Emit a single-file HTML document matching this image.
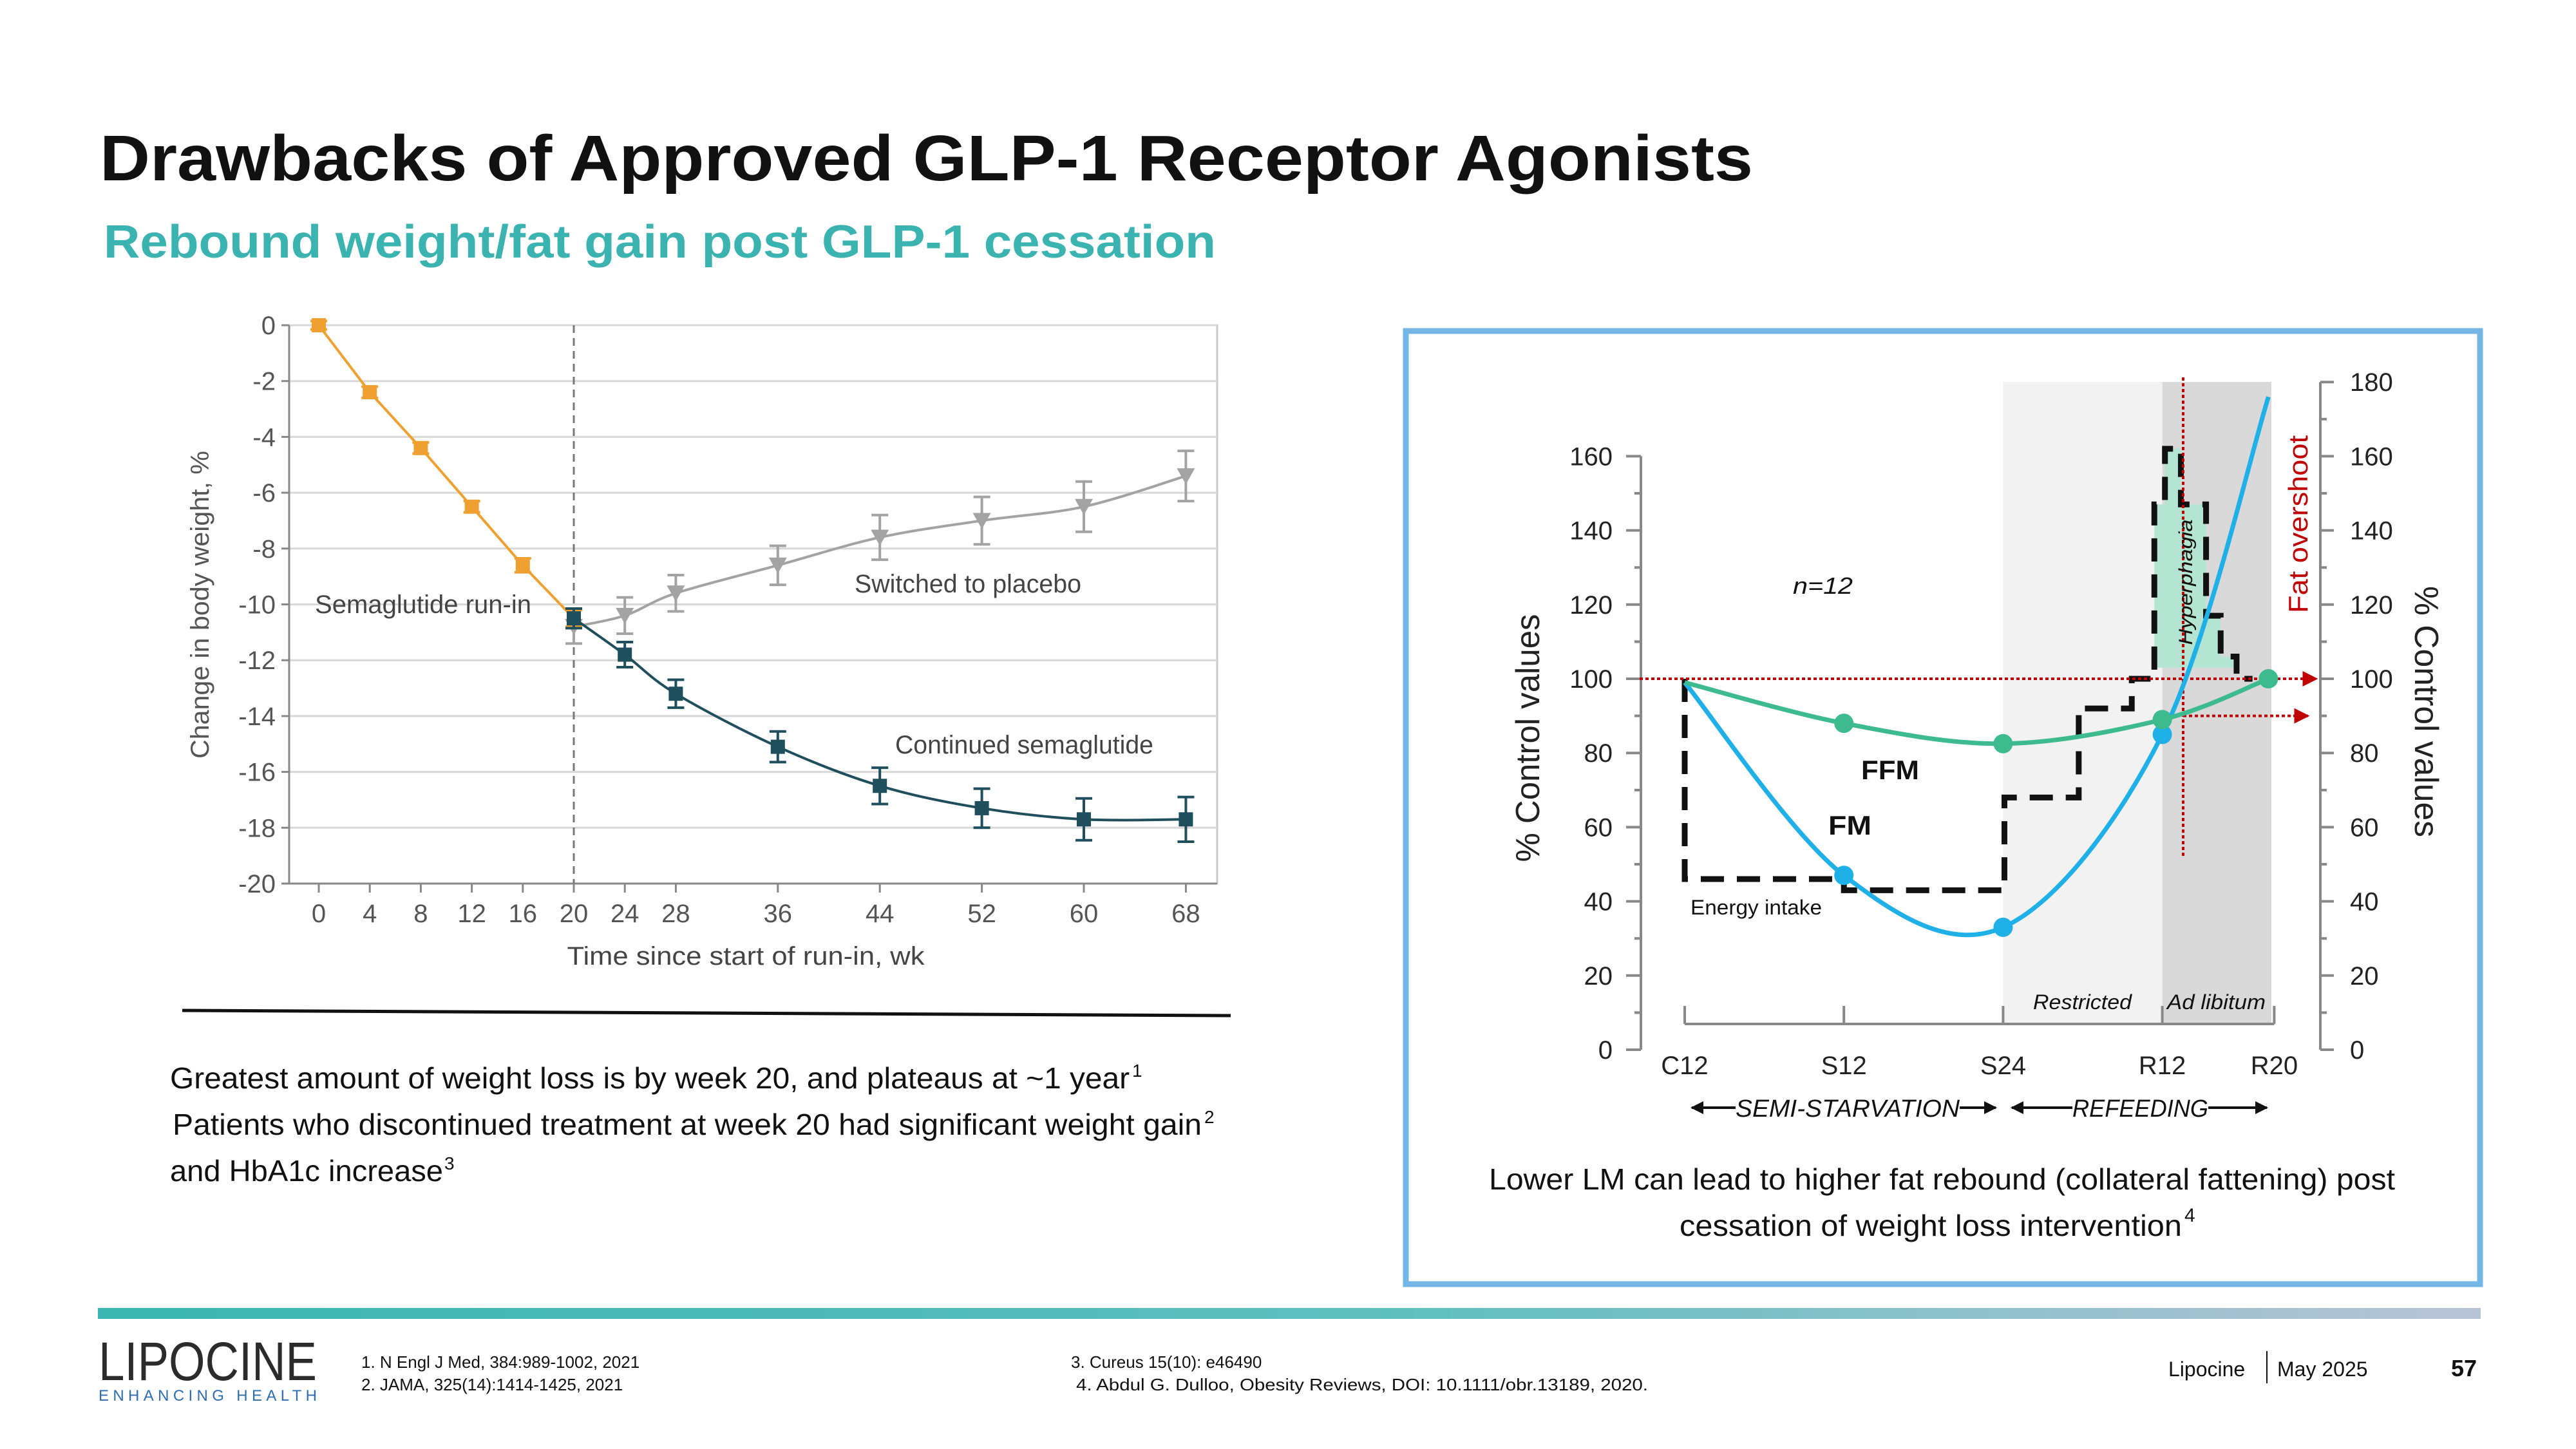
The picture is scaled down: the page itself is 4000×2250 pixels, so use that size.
<!DOCTYPE html>
<html><head><meta charset="utf-8"><style>
html,body{margin:0;padding:0;background:#fff;}
svg{display:block;font-family:"Liberation Sans",sans-serif;}
</style></head><body>
<svg id="s" width="4000" height="2250" viewBox="0 0 4000 2250" xmlns="http://www.w3.org/2000/svg">
<defs>
<linearGradient id="bar" x1="0" x2="1"><stop offset="0" stop-color="#3ab5b0"/><stop offset="0.55" stop-color="#5fbfbf"/><stop offset="1" stop-color="#b9c3d6"/></linearGradient>
<marker id="ar" viewBox="0 0 10 10" refX="9" refY="5" markerWidth="6" markerHeight="6" orient="auto"><path d="M0,0L10,5L0,10z" fill="#c00000"/></marker>
<marker id="ak" viewBox="0 0 10 10" refX="9" refY="5" markerWidth="5" markerHeight="5" orient="auto"><path d="M0,0L10,5L0,10z" fill="#111"/></marker>
</defs>
<text x="155" y="280" font-size="100" font-weight="bold" fill="#111" textLength="2567" lengthAdjust="spacingAndGlyphs">Drawbacks of Approved GLP-1 Receptor Agonists</text>
<text x="161" y="400" font-size="72" font-weight="bold" fill="#3bb3b0" textLength="1727" lengthAdjust="spacingAndGlyphs">Rebound weight/fat gain post GLP-1 cessation</text>

<g id="c1"></g>
<line x1="283" y1="1569" x2="1911" y2="1577" stroke="#111" stroke-width="5"/>

<g font-size="46" fill="#111">
<text x="264" y="1690" textLength="1490" lengthAdjust="spacingAndGlyphs">Greatest amount of weight loss is by week 20, and plateaus at ~1 year</text><text x="1758" y="1672" font-size="28">1</text>
<text x="268" y="1762" textLength="1598" lengthAdjust="spacingAndGlyphs">Patients who discontinued treatment at week 20 had significant weight gain</text><text x="1870" y="1744" font-size="28">2</text>
<text x="264" y="1834" textLength="424" lengthAdjust="spacingAndGlyphs">and HbA1c increase</text><text x="690" y="1816" font-size="28">3</text>
</g>

<rect x="2183" y="514" width="1668" height="1480" fill="none" stroke="#74b6e6" stroke-width="9"/>
<g id="c2"></g>

<g font-size="46" fill="#111">
<text x="2312" y="1847" textLength="1407" lengthAdjust="spacingAndGlyphs">Lower LM can lead to higher fat rebound (collateral fattening) post</text>
<text x="2608" y="1919" textLength="780" lengthAdjust="spacingAndGlyphs">cessation of weight loss intervention</text><text x="3392" y="1897" font-size="30">4</text>
</g>

<rect x="152" y="2031" width="3700" height="17" fill="url(#bar)"/>
<text x="153" y="2143" font-size="84" fill="#2b2b2b" textLength="339" lengthAdjust="spacingAndGlyphs">LIPOCINE</text>
<text x="153" y="2175" font-size="24" fill="#2d6db3" textLength="339" lengthAdjust="spacing">ENHANCING HEALTH</text>
<g font-size="26" fill="#111">
<text x="561" y="2124">1. N Engl J Med, 384:989-1002, 2021</text>
<text x="561" y="2159">2. JAMA, 325(14):1414-1425, 2021</text>
<text x="1663" y="2124">3. Cureus 15(10): e46490</text>
<text x="1671" y="2159" textLength="888" lengthAdjust="spacingAndGlyphs">4. Abdul G. Dulloo, Obesity Reviews, DOI: 10.1111/obr.13189, 2020.</text>
</g>
<text x="3367" y="2137" font-size="32" fill="#111">Lipocine</text>
<line x1="3520" y1="2098" x2="3520" y2="2148" stroke="#111" stroke-width="2"/>
<text x="3536" y="2137" font-size="32" fill="#111">May 2025</text>
<text x="3806" y="2137" font-size="36" font-weight="bold" fill="#111">57</text>
</svg>
<script>
// ---- Chart 1 data ----
const weekTicks=[0,4,8,12,16,20,24,28,36,44,52,60,68];
const yTicks1=[0,-2,-4,-6,-8,-10,-12,-14,-16,-18,-20];
const runinWeeks=[0,4,8,12,16,20];
const runinVals=[0,-2.4,-4.4,-6.5,-8.6,-10.5];
const runinErr=[0.15,0.2,0.2,0.2,0.25,0.3];
const placeboWeeks=[20,24,28,36,44,52,60,68];
const placeboVals=[-10.8,-10.4,-9.6,-8.6,-7.6,-7.0,-6.5,-5.4];
const placeboErr=[0.6,0.65,0.65,0.7,0.8,0.85,0.9,0.9];
const semaWeeks=[20,24,28,36,44,52,60,68];
const semaVals=[-10.5,-11.8,-13.2,-15.1,-16.5,-17.3,-17.7,-17.7];
const semaErr=[0.35,0.45,0.5,0.55,0.65,0.7,0.75,0.8];
// ---- Chart 2 data ----
const catLabels=["C12","S12","S24","R12","R20"];
const catWeeks=[0,12,24,36,44];
const leftTicks=[0,20,40,60,80,100,120,140,160];
const rightTicks=[0,20,40,60,80,100,120,140,160,180];
const ffmVals=[99,88,82.5,89,100];
const fmWeeks=[0,12,24,36,44];
const fmVals=[99,47,33,85,176];
const intakeX=[0,0,12,12,24.1,24.1,29.7,29.7,33.7,33.7,35.4,35.4,36.2,36.2,37.4,37.4,39.3,39.3,40.4,40.4,41.6,41.6,42.8];
const intakeY=[100,46,46,43,43,68,68,92,92,100,100,147,147,162,162,147,147,117,117,106,106,100,100];

const NS="http://www.w3.org/2000/svg";
function mk(p,tag,at,txt){const e=document.createElementNS(NS,tag);for(const k in at)e.setAttribute(k,at[k]);if(txt!==undefined)e.textContent=txt;p.appendChild(e);return e;}
function spline(pts){let d="M"+pts[0][0]+","+pts[0][1];for(let i=0;i<pts.length-1;i++){const p0=pts[i-1]||pts[i],p1=pts[i],p2=pts[i+1],p3=pts[i+2]||p2;const c1=[p1[0]+(p2[0]-p0[0])/6,p1[1]+(p2[1]-p0[1])/6],c2=[p2[0]-(p3[0]-p1[0])/6,p2[1]-(p3[1]-p1[1])/6];d+=" C"+c1+" "+c2+" "+p2;}return d;}

// ---- Chart 1 ----
const g1=document.getElementById('c1');
const x1=w=>495+w*19.8, y1=v=>505-v*43.35;
mk(g1,'rect',{x:449,y:505,width:1441,height:867,fill:'none',stroke:'#c8c8c8','stroke-width':3});
yTicks1.forEach(v=>{
 mk(g1,'line',{x1:449,x2:1890,y1:y1(v),y2:y1(v),stroke:v===-20?'#888':'#d8d8d8','stroke-width':3});
 mk(g1,'line',{x1:437,x2:449,y1:y1(v),y2:y1(v),stroke:'#888','stroke-width':3});
 const t=mk(g1,'text',{x:428,y:y1(v)+14,'font-size':40,fill:'#555','text-anchor':'end'},v===0?'0':'-'+Math.abs(v));
 
 
});
mk(g1,'line',{x1:449,x2:449,y1:505,y2:1372,stroke:'#888','stroke-width':3});
weekTicks.forEach(w=>{
 mk(g1,'line',{x1:x1(w),x2:x1(w),y1:1372,y2:1386,stroke:'#888','stroke-width':3});
 const t=mk(g1,'text',{x:x1(w),y:1432,'font-size':40,fill:'#555','text-anchor':'middle'},String(w));
 
 
});
const xt=mk(g1,'text',{x:1158,y:1498,'font-size':40,fill:'#444','text-anchor':'middle',textLength:555,lengthAdjust:'spacingAndGlyphs'},'Time since start of run-in, wk');


const yt=mk(g1,'text',{x:0,y:0,'font-size':40,fill:'#555','text-anchor':'middle',transform:'translate(324,939) rotate(-90)',textLength:478,lengthAdjust:'spacingAndGlyphs'},'Change in body weight, %');


mk(g1,'line',{x1:x1(20),x2:x1(20),y1:505,y2:1372,stroke:'#777','stroke-width':3,'stroke-dasharray':'12 8'});
function series(ws,vs,es,col,shape,name){
 const pts=ws.map((w,i)=>[x1(w),y1(vs[i])]);
 const p=mk(g1,'path',{d:ws.length>6?spline(pts):'M'+pts.join('L'),fill:'none',stroke:col,'stroke-width':4});
 
 
 ws.forEach((w,i)=>{
  const cx=x1(w),cy=y1(vs[i]),t=y1(vs[i]+es[i]),b=y1(vs[i]-es[i]);
  mk(g1,'path',{d:`M${cx},${t}V${b}M${cx-13},${t}H${cx+13}M${cx-13},${b}H${cx+13}`,stroke:col,'stroke-width':4,fill:'none'});
  let m;
  if(shape==='sq') m=mk(g1,'rect',{x:cx-11,y:cy-11,width:22,height:22,fill:col});
  else m=mk(g1,'path',{d:`M${cx-14},${cy-12}H${cx+14}L${cx},${cy+13}Z`,fill:col});
  
  
 });
}
series(placeboWeeks,placeboVals,placeboErr,'#a3a3a3','tri','placebo');
series(runinWeeks,runinVals,runinErr,'#f0a030','sq','run-in');
series(semaWeeks,semaVals,semaErr,'#1f4e5c','sq','semaglutide');
[['Semaglutide run-in',489,952,336,'run-in-label'],['Switched to placebo',1327,920,352,'placebo-label'],['Continued semaglutide',1390,1170,401,'semaglutide-label']].forEach(a=>{
 const t=mk(g1,'text',{x:a[1],y:a[2],'font-size':40,fill:'#444',textLength:a[3],lengthAdjust:'spacingAndGlyphs'},a[0]);
 
 
});

// ---- Chart 2 ----
const g2=document.getElementById('c2');
const X=w=>2616+w*20.6, Y=v=>1630-v*5.76;
const AX=1590;
const s1=mk(g2,'rect',{x:X(24),y:593,width:X(36)-X(24),height:AX-593,fill:'#f2f2f2'});


const s2=mk(g2,'rect',{x:X(36),y:593,width:3527-X(36),height:AX-593,fill:'#d9d9d9'});


mk(g2,'line',{x1:2548,x2:2548,y1:Y(0),y2:Y(160),stroke:'#888','stroke-width':4});
for(let v=0;v<=160;v+=10) mk(g2,'line',{x1:v%20?2538:2525,x2:2548,y1:Y(v),y2:Y(v),stroke:'#888','stroke-width':4});
leftTicks.forEach(v=>{const t=mk(g2,'text',{x:2504,y:Y(v)+14,'font-size':40,fill:'#222','text-anchor':'end'},String(v));
 
 });
mk(g2,'line',{x1:3603,x2:3603,y1:Y(0),y2:Y(180),stroke:'#888','stroke-width':4});
for(let v=0;v<=180;v+=10) mk(g2,'line',{x1:3603,x2:v%20?3613:3624,y1:Y(v),y2:Y(v),stroke:'#888','stroke-width':4});
rightTicks.forEach(v=>{const t=mk(g2,'text',{x:3649,y:Y(v)+14,'font-size':40,fill:'#222'},String(v));
 
 });
mk(g2,'line',{x1:X(0),x2:X(44)+9,y1:AX,y2:AX,stroke:'#888','stroke-width':4});
catWeeks.forEach((w,i)=>{const xx=i===4?X(w)+9:X(w);mk(g2,'line',{x1:xx,x2:xx,y1:AX-28,y2:AX,stroke:'#888','stroke-width':4});
 const t=mk(g2,'text',{x:xx,y:1668,'font-size':40,fill:'#222','text-anchor':'middle'},catLabels[i]);
 
 });
let t;
t=mk(g2,'text',{x:0,y:0,'font-size':52,fill:'#222','text-anchor':'middle',transform:'translate(2390,1146) rotate(-90)',textLength:385,lengthAdjust:'spacingAndGlyphs'},'% Control values');


t=mk(g2,'text',{x:0,y:0,'font-size':52,fill:'#222','text-anchor':'middle',transform:'translate(3750,1105) rotate(90)',textLength:390,lengthAdjust:'spacingAndGlyphs'},'% Control values');


let fd=`M${X(35.4)},${Y(103)}`;
for(let i=0;i<intakeX.length;i++){if(intakeX[i]>=35.4&&intakeX[i]<=41.6&&intakeY[i]>=103)fd+=`L${X(intakeX[i])},${Y(intakeY[i])}`;}
fd+=`L${X(41.6)},${Y(103)}Z`;
const hf=mk(g2,'path',{d:fd,fill:'#b4e4d2'});


const ei=mk(g2,'path',{d:'M'+intakeX.map((x,i)=>X(x)+','+Y(intakeY[i])).join('L'),fill:'none',stroke:'#111','stroke-width':9,'stroke-dasharray':'36 20'});


mk(g2,'line',{x1:2546,x2:3597,y1:Y(100),y2:Y(100),stroke:'#c00000','stroke-width':4,'stroke-dasharray':'5 4','marker-end':'url(#ar)'});
mk(g2,'line',{x1:3390,x2:3584,y1:Y(90),y2:Y(90),stroke:'#c00000','stroke-width':4,'stroke-dasharray':'5 4','marker-end':'url(#ar)'});
mk(g2,'line',{x1:3390,x2:3390,y1:586,y2:1330,stroke:'#c00000','stroke-width':4,'stroke-dasharray':'5 4'});
const fm=mk(g2,'path',{d:spline(fmWeeks.map((w,i)=>[X(w),Y(fmVals[i])])),fill:'none',stroke:'#1fb0e8','stroke-width':7});


const ff=mk(g2,'path',{d:spline(catWeeks.map((w,i)=>[X(w),Y(ffmVals[i])])),fill:'none',stroke:'#3dbb8f','stroke-width':7});


for(let i=1;i<4;i++){const c=mk(g2,'circle',{cx:X(fmWeeks[i]),cy:Y(fmVals[i]),r:15,fill:'#1fb0e8'});
 
 }
for(let i=1;i<5;i++){const c=mk(g2,'circle',{cx:X(catWeeks[i]),cy:Y(ffmVals[i]),r:15,fill:'#3dbb8f'});
 
 }
[['n=12',2784,922,36,'italic','normal','n-label',93],['FFM',2890,1210,42,'normal','bold','ffm-label',90],['FM',2839,1296,42,'normal','bold','fm-label',67],['Energy intake',2625,1420,32,'normal','normal','energy-intake-label',204],['Restricted',3157,1567,32,'italic','normal','restricted-label',153],['Ad libitum',3365,1567,32,'italic','normal','ad-libitum-label',153]].forEach(a=>{
 const e=mk(g2,'text',{x:a[1],y:a[2],'font-size':a[3],'font-style':a[4],'font-weight':a[5],fill:'#111',textLength:a[7],lengthAdjust:'spacingAndGlyphs'},a[0]);
 
 
});
t=mk(g2,'text',{x:0,y:0,'font-size':42,fill:'#c00000','text-anchor':'middle',transform:'translate(3583,814) rotate(-90)',textLength:276,lengthAdjust:'spacingAndGlyphs'},'Fat overshoot');


t=mk(g2,'text',{x:0,y:0,'font-size':30,'font-style':'italic',fill:'#111','text-anchor':'middle',transform:'translate(3404,904) rotate(-90)',textLength:195,lengthAdjust:'spacingAndGlyphs'},'Hyperphagia');


mk(g2,'line',{x1:2695,x2:2627,y1:1720,y2:1720,stroke:'#111','stroke-width':4,'marker-end':'url(#ak)'});
mk(g2,'line',{x1:3043,x2:3099,y1:1720,y2:1720,stroke:'#111','stroke-width':4,'marker-end':'url(#ak)'});
t=mk(g2,'text',{x:2695,y:1734,'font-size':38,'font-style':'italic',fill:'#111',textLength:348,lengthAdjust:'spacingAndGlyphs'},'SEMI-STARVATION');


mk(g2,'line',{x1:3218,x2:3124,y1:1720,y2:1720,stroke:'#111','stroke-width':4,'marker-end':'url(#ak)'});
mk(g2,'line',{x1:3429,x2:3520,y1:1720,y2:1720,stroke:'#111','stroke-width':4,'marker-end':'url(#ak)'});
t=mk(g2,'text',{x:3218,y:1734,'font-size':38,'font-style':'italic',fill:'#111',textLength:211,lengthAdjust:'spacingAndGlyphs'},'REFEEDING');


</script>
</body></html>
